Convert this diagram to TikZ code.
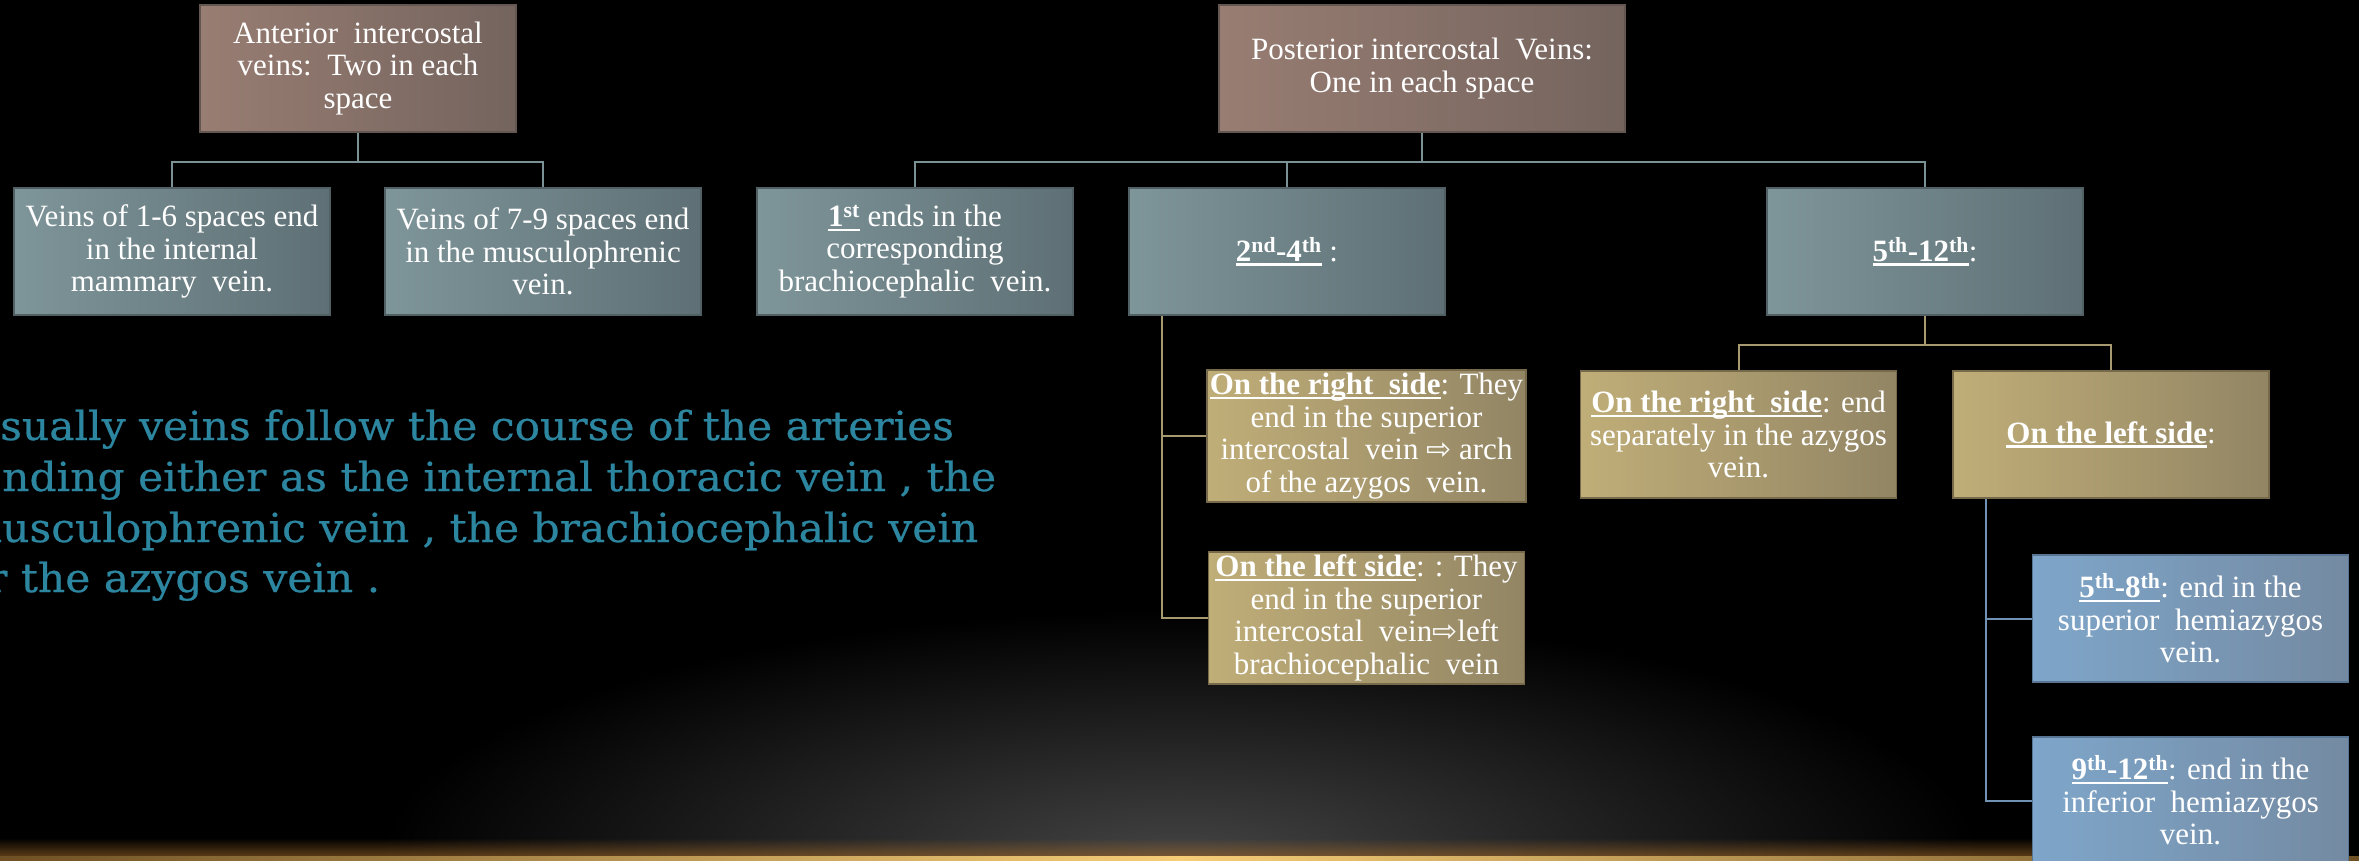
\documentclass[tikz,border=0pt]{standalone}
\usepackage{fontspec}
\setmainfont{Liberation Serif}
\newfontfamily\symfont{DejaVu Sans}
\newfontfamily\slabfont{DejaVu Serif}[FakeStretch=1.06,FakeBold=0.6]
\usetikzlibrary{fadings}
\tikzfading[name=fadeup, top color=transparent!100, bottom color=transparent!0]

\definecolor{brL}{RGB}{152,125,114}
\definecolor{brR}{RGB}{116,100,94}
\definecolor{brD}{RGB}{100,86,80}
\definecolor{tlL}{RGB}{126,149,153}
\definecolor{tlR}{RGB}{94,112,117}
\definecolor{tlD}{RGB}{80,96,100}
\definecolor{gdL}{RGB}{192,174,120}
\definecolor{gdR}{RGB}{146,133,100}
\definecolor{gdD}{RGB}{118,106,74}
\definecolor{buL}{RGB}{126,166,202}
\definecolor{buR}{RGB}{116,138,162}
\definecolor{buD}{RGB}{88,118,148}
\definecolor{lnT}{RGB}{122,146,150}
\definecolor{lnG}{RGB}{168,154,112}
\definecolor{lnB}{RGB}{112,146,180}
\definecolor{paraC}{RGB}{44,134,160}
\definecolor{glowC}{RGB}{68,68,68}
\definecolor{goldHi}{RGB}{246,206,120}
\definecolor{goldLo}{RGB}{110,80,36}
\definecolor{hazeC}{RGB}{150,100,40}

\newsavebox\ulbox
\newcommand{\myul}[1]{\sbox\ulbox{#1}\rlap{\rule[-4.5pt]{\wd\ulbox}{2.4pt}}\usebox\ulbox}
\newcommand{\arr}{{\symfont\fontsize{30}{30}\selectfont ⇨}}

\begin{document}
\begin{tikzpicture}[x=1pt,y=-1pt,
  bx/.style={draw, line width=1.5pt, minimum width=316pt, minimum height=127pt,
    align=center, text=white, inner sep=3pt, font=\fontsize{31}{32.5}\selectfont},
  bxbrown/.style={bx, draw=brD, left color=brL, right color=brR},
  bxteal/.style={bx, draw=tlD, left color=tlL, right color=tlR},
  bxgold/.style={bx, draw=gdD, left color=gdL, right color=gdR},
  bxblue/.style={bx, draw=buD, left color=buL, right color=buR},
  ln/.style={line width=2pt},
  lnteal/.style={ln, draw=lnT},
  lngold/.style={ln, draw=lnG},
  lnblue/.style={ln, draw=lnB},
  para/.style={font=\slabfont\fontsize{40}{48}\selectfont, text=paraC, inner sep=0pt, anchor=base west}
]
\useasboundingbox (0,0) rectangle (2359,861);
\clip (0,0) rectangle (2359,861);
\fill[black] (0,0) rectangle (2359,861);
\shade[inner color=glowC, outer color=black] (1180,861) ellipse [x radius=800, y radius=250];
\fill[hazeC, path fading=fadeup, fill opacity=0.6] (0,838) rectangle (2359,856);
\shade[left color=goldLo, right color=goldLo, middle color=goldHi] (0,856) rectangle (2359,861);

% paragraph
\node[para] (t1) at (0,440) {\llap{U}sually veins follow the course of the arteries};
\node[para] (t2) at (2,491) {\llap{E}nding either as the internal thoracic vein , the};
\node[para] (t3) at (2,542) {\llap{m}usculophrenic vein , the brachiocephalic vein};
\node[para] (t4) at (-13,592) {\llap{o}r the azygos vein .};

% anterior tree
\node[bxbrown] (ant) at (358,68.5) {Anterior\ \ intercostal\\veins:\ \ Two in each\\space};
\node[bxteal] (a1) at (172,251.5) {Veins of 1-6 spaces end\\in the internal\\mammary\ \ vein.};
\node[bxteal] (a2) at (543,251.5) {Veins of 7-9 spaces end\\in the musculophrenic\\vein.};
\draw[lnteal] (ant.south) -- ++(0,29) -| (a1.north);
\draw[lnteal] (ant.south) -- ++(0,29) -| (a2.north);

% posterior tree
\node[bxbrown, minimum width=406pt] (post) at (1422,68.5) {Posterior intercostal\ \ Veins:\\One in each space};
\node[bxteal] (p1) at (915,251.5) {\myul{\textbf{1\textsuperscript{st}}} ends in the\\corresponding\\brachiocephalic\ \ vein.};
\node[bxteal] (p2) at (1287,251.5) {\myul{\textbf{2\textsuperscript{nd}-4\textsuperscript{th}}} :};
\node[bxteal] (p3) at (1925,251.5) {\myul{\textbf{5\textsuperscript{th}-12\textsuperscript{th}}}:};
\draw[lnteal] (post.south) -- ++(0,29) -| (p1.north);
\draw[lnteal] (post.south) -- ++(0,29) -| (p2.north);
\draw[lnteal] (post.south) -- ++(0,29) -| (p3.north);

\node[bxgold] (r1) at (1366.5,436) {\myul{\textbf{On the right\ \ side}}: They\\end in the superior\\intercostal\ \ vein \arr{} arch\\of the azygos\ \ vein.};
\node[bxgold] (l1) at (1366.5,618) {\myul{\textbf{On the left side}}: : They\\end in the superior\\intercostal\ \ vein\arr{}left\\brachiocephalic\ \ vein};
\draw[lngold] ([xshift=-125pt]p2.south) |- (r1.west);
\draw[lngold] ([xshift=-125pt]p2.south) |- (l1.west);

\node[bxgold] (r2) at (1738.5,434.5) {\myul{\textbf{On the right\ \ side}}: end\\separately in the azygos\\vein.};
\node[bxgold] (l2) at (2111,434.5) {\myul{\textbf{On the left side}}:};
\draw[lngold] (p3.south) -- ++(0,29) -| (r2.north);
\draw[lngold] (p3.south) -- ++(0,29) -| (l2.north);

\node[bxblue] (b1) at (2190.5,618.5) {\myul{\textbf{5\textsuperscript{th}-8\textsuperscript{th}}}: end in the\\superior\ \ hemiazygos\\vein.};
\node[bxblue] (b2) at (2190.5,800.5) {\myul{\textbf{9\textsuperscript{th}-12\textsuperscript{th}}}: end in the\\inferior\ \ hemiazygos\\vein.};
\draw[lnblue] ([xshift=-125pt]l2.south) |- (b1.west);
\draw[lnblue] ([xshift=-125pt]l2.south) |- (b2.west);
\end{tikzpicture}
\end{document}
